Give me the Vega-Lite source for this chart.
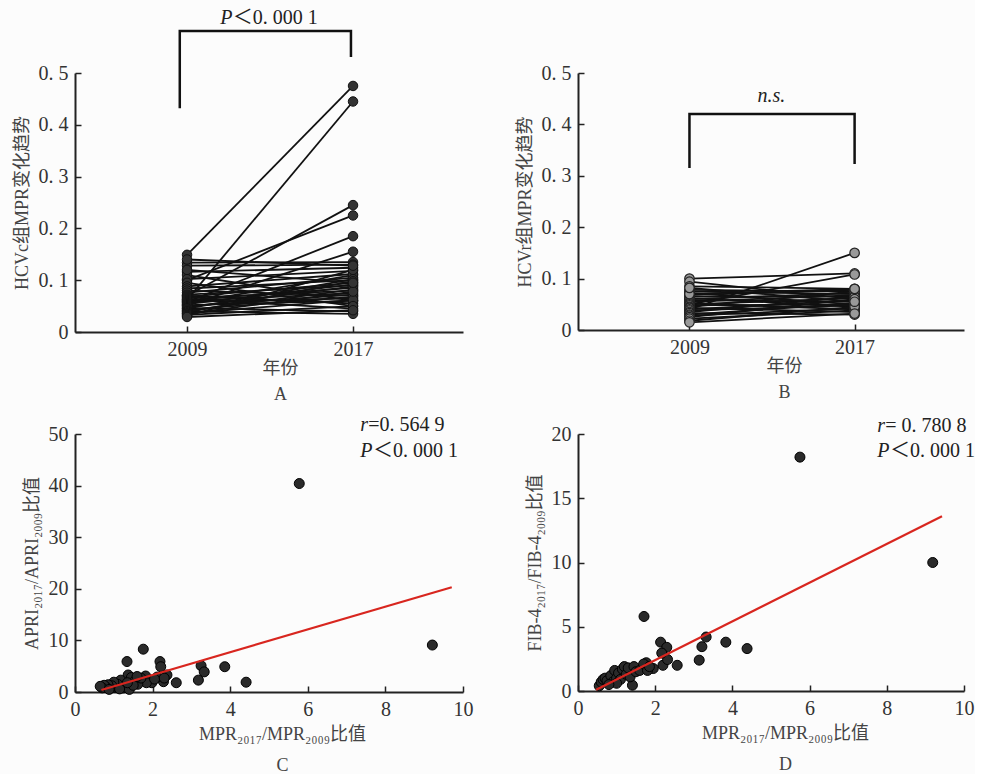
{
  "$schema": "https://vega.github.io/schema/vega-lite/v6.json",
  "background": "#fcfcfc",
  "padding": {"left": 13, "top": 8, "right": 0, "bottom": 0},
  "columns": 2,
  "spacing": {"row": 12, "column": 43},
  "config": {
    "font": "Liberation Serif, Noto Sans CJK SC",
    "view": {"stroke": null},
    "axis": {
      "grid": false,
      "domainColor": "#222",
      "domainWidth": 2,
      "tickColor": "#222",
      "tickWidth": 1.5,
      "tickSize": -6,
      "labelPadding": 13,
      "labelFont": "Liberation Serif, Noto Sans CJK SC",
      "labelFontSize": 20,
      "labelColor": "#333",
      "labelFlush": false,
      "labelOverlap": false,
      "titleFont": "Liberation Serif, Noto Sans CJK SC",
      "titleFontSize": 18,
      "titleFontWeight": "normal",
      "titleColor": "#444",
      "titlePadding": 7,
      "titleLineHeight": 26
    },
    "axisX": {"titlePadding": 0},
    "text": {"font": "Liberation Serif, Noto Sans CJK SC", "fontSize": 20, "color": "#222", "baseline": "middle", "align": "left"}
  },
  "datasets": {
    "pairsA": [
      {"id":1,"x":2009,"y":0.149},{"id":1,"x":2017,"y":0.475},
      {"id":2,"x":2009,"y":0.062},{"id":2,"x":2017,"y":0.445},
      {"id":3,"x":2009,"y":0.070},{"id":3,"x":2017,"y":0.245},
      {"id":4,"x":2009,"y":0.100},{"id":4,"x":2017,"y":0.225},
      {"id":5,"x":2009,"y":0.058},{"id":5,"x":2017,"y":0.185},
      {"id":6,"x":2009,"y":0.052},{"id":6,"x":2017,"y":0.155},
      {"id":7,"x":2009,"y":0.134},{"id":7,"x":2017,"y":0.135},
      {"id":8,"x":2009,"y":0.128},{"id":8,"x":2017,"y":0.130},
      {"id":9,"x":2009,"y":0.116},{"id":9,"x":2017,"y":0.124},
      {"id":10,"x":2009,"y":0.110},{"id":10,"x":2017,"y":0.060},
      {"id":11,"x":2009,"y":0.102},{"id":11,"x":2017,"y":0.118},
      {"id":12,"x":2009,"y":0.095},{"id":12,"x":2017,"y":0.050},
      {"id":13,"x":2009,"y":0.088},{"id":13,"x":2017,"y":0.112},
      {"id":14,"x":2009,"y":0.084},{"id":14,"x":2017,"y":0.100},
      {"id":15,"x":2009,"y":0.080},{"id":15,"x":2017,"y":0.070},
      {"id":16,"x":2009,"y":0.076},{"id":16,"x":2017,"y":0.105},
      {"id":17,"x":2009,"y":0.072},{"id":17,"x":2017,"y":0.090},
      {"id":18,"x":2009,"y":0.070},{"id":18,"x":2017,"y":0.055},
      {"id":19,"x":2009,"y":0.068},{"id":19,"x":2017,"y":0.095},
      {"id":20,"x":2009,"y":0.066},{"id":20,"x":2017,"y":0.080},
      {"id":21,"x":2009,"y":0.064},{"id":21,"x":2017,"y":0.045},
      {"id":22,"x":2009,"y":0.062},{"id":22,"x":2017,"y":0.085},
      {"id":23,"x":2009,"y":0.060},{"id":23,"x":2017,"y":0.075},
      {"id":24,"x":2009,"y":0.058},{"id":24,"x":2017,"y":0.065},
      {"id":25,"x":2009,"y":0.056},{"id":25,"x":2017,"y":0.110},
      {"id":26,"x":2009,"y":0.054},{"id":26,"x":2017,"y":0.092},
      {"id":27,"x":2009,"y":0.052},{"id":27,"x":2017,"y":0.060},
      {"id":28,"x":2009,"y":0.050},{"id":28,"x":2017,"y":0.072},
      {"id":29,"x":2009,"y":0.048},{"id":29,"x":2017,"y":0.088},
      {"id":30,"x":2009,"y":0.046},{"id":30,"x":2017,"y":0.040},
      {"id":31,"x":2009,"y":0.045},{"id":31,"x":2017,"y":0.102},
      {"id":32,"x":2009,"y":0.043},{"id":32,"x":2017,"y":0.068},
      {"id":33,"x":2009,"y":0.041},{"id":33,"x":2017,"y":0.082},
      {"id":34,"x":2009,"y":0.040},{"id":34,"x":2017,"y":0.035},
      {"id":35,"x":2009,"y":0.038},{"id":35,"x":2017,"y":0.098},
      {"id":36,"x":2009,"y":0.036},{"id":36,"x":2017,"y":0.062},
      {"id":37,"x":2009,"y":0.035},{"id":37,"x":2017,"y":0.078},
      {"id":38,"x":2009,"y":0.033},{"id":38,"x":2017,"y":0.050},
      {"id":39,"x":2009,"y":0.031},{"id":39,"x":2017,"y":0.120},
      {"id":40,"x":2009,"y":0.029},{"id":40,"x":2017,"y":0.042},
      {"id":41,"x":2009,"y":0.120},{"id":41,"x":2017,"y":0.095},
      {"id":42,"x":2009,"y":0.140},{"id":42,"x":2017,"y":0.128}
    ],
    "pairsB": [
      {"id":1,"x":2009,"y":0.100},{"id":1,"x":2017,"y":0.110},
      {"id":2,"x":2009,"y":0.040},{"id":2,"x":2017,"y":0.150},
      {"id":3,"x":2009,"y":0.094},{"id":3,"x":2017,"y":0.060},
      {"id":4,"x":2009,"y":0.050},{"id":4,"x":2017,"y":0.108},
      {"id":5,"x":2009,"y":0.085},{"id":5,"x":2017,"y":0.080},
      {"id":6,"x":2009,"y":0.078},{"id":6,"x":2017,"y":0.075},
      {"id":7,"x":2009,"y":0.075},{"id":7,"x":2017,"y":0.070},
      {"id":8,"x":2009,"y":0.072},{"id":8,"x":2017,"y":0.050},
      {"id":9,"x":2009,"y":0.068},{"id":9,"x":2017,"y":0.078},
      {"id":10,"x":2009,"y":0.065},{"id":10,"x":2017,"y":0.065},
      {"id":11,"x":2009,"y":0.062},{"id":11,"x":2017,"y":0.045},
      {"id":12,"x":2009,"y":0.060},{"id":12,"x":2017,"y":0.072},
      {"id":13,"x":2009,"y":0.058},{"id":13,"x":2017,"y":0.055},
      {"id":14,"x":2009,"y":0.055},{"id":14,"x":2017,"y":0.068},
      {"id":15,"x":2009,"y":0.052},{"id":15,"x":2017,"y":0.040},
      {"id":16,"x":2009,"y":0.050},{"id":16,"x":2017,"y":0.062},
      {"id":17,"x":2009,"y":0.048},{"id":17,"x":2017,"y":0.050},
      {"id":18,"x":2009,"y":0.045},{"id":18,"x":2017,"y":0.075},
      {"id":19,"x":2009,"y":0.043},{"id":19,"x":2017,"y":0.035},
      {"id":20,"x":2009,"y":0.040},{"id":20,"x":2017,"y":0.058},
      {"id":21,"x":2009,"y":0.038},{"id":21,"x":2017,"y":0.048},
      {"id":22,"x":2009,"y":0.035},{"id":22,"x":2017,"y":0.065},
      {"id":23,"x":2009,"y":0.033},{"id":23,"x":2017,"y":0.030},
      {"id":24,"x":2009,"y":0.030},{"id":24,"x":2017,"y":0.052},
      {"id":25,"x":2009,"y":0.028},{"id":25,"x":2017,"y":0.042},
      {"id":26,"x":2009,"y":0.025},{"id":26,"x":2017,"y":0.060},
      {"id":27,"x":2009,"y":0.022},{"id":27,"x":2017,"y":0.038},
      {"id":28,"x":2009,"y":0.018},{"id":28,"x":2017,"y":0.045},
      {"id":29,"x":2009,"y":0.015},{"id":29,"x":2017,"y":0.032},
      {"id":30,"x":2009,"y":0.070},{"id":30,"x":2017,"y":0.080},
      {"id":31,"x":2009,"y":0.082},{"id":31,"x":2017,"y":0.055}
    ],
    "bracketA": [
      {"o":1,"x":2008.65,"y":0.432},{"o":2,"x":2008.65,"y":0.581},
      {"o":3,"x":2016.9,"y":0.581},{"o":4,"x":2016.9,"y":0.531}
    ],
    "bracketB": [
      {"o":1,"x":2009,"y":0.315},{"o":2,"x":2009,"y":0.42},
      {"o":3,"x":2017,"y":0.42},{"o":4,"x":2017,"y":0.323}
    ],
    "scatterC": [
      {"x":5.78,"y":40.4},{"x":9.21,"y":9.1},{"x":1.76,"y":8.3},{"x":1.34,"y":5.9},
      {"x":2.19,"y":5.9},{"x":2.21,"y":4.9},{"x":3.25,"y":5.1},{"x":3.33,"y":3.9},
      {"x":3.86,"y":4.9},{"x":3.18,"y":2.3},{"x":4.41,"y":1.9},{"x":2.61,"y":1.8},
      {"x":2.37,"y":3.3},{"x":2.28,"y":2.0},{"x":2.12,"y":2.9},{"x":1.98,"y":1.8},
      {"x":1.82,"y":3.1},{"x":1.84,"y":1.8},{"x":1.37,"y":3.3},{"x":1.18,"y":2.3},
      {"x":1.45,"y":2.8},{"x":1.55,"y":2.2},{"x":1.62,"y":1.5},{"x":1.30,"y":1.2},
      {"x":1.25,"y":0.8},{"x":1.10,"y":1.5},{"x":1.05,"y":0.9},{"x":1.00,"y":1.9},
      {"x":0.95,"y":1.2},{"x":0.90,"y":0.7},{"x":0.85,"y":1.4},{"x":0.80,"y":0.9},
      {"x":0.75,"y":1.3},{"x":0.70,"y":0.8},{"x":0.65,"y":1.1},{"x":1.40,"y":0.5},
      {"x":1.50,"y":1.3},{"x":1.70,"y":2.7},{"x":2.05,"y":2.5},{"x":2.30,"y":2.7},
      {"x":1.15,"y":0.6},{"x":1.35,"y":1.8},{"x":0.88,"y":0.5},{"x":1.60,"y":3.0}
    ],
    "scatterD": [
      {"x":5.75,"y":18.2},{"x":9.19,"y":10.0},{"x":1.71,"y":5.8},{"x":2.14,"y":3.8},
      {"x":2.30,"y":3.4},{"x":3.32,"y":4.2},{"x":3.21,"y":3.45},{"x":3.83,"y":3.8},
      {"x":4.38,"y":3.3},{"x":3.14,"y":2.4},{"x":2.57,"y":2.0},{"x":2.20,"y":2.0},
      {"x":2.32,"y":2.45},{"x":2.17,"y":2.95},{"x":1.95,"y":1.75},{"x":1.77,"y":2.2},
      {"x":1.41,"y":0.45},{"x":0.55,"y":0.4},{"x":0.60,"y":0.7},{"x":0.65,"y":0.9},
      {"x":0.70,"y":1.0},{"x":0.75,"y":0.8},{"x":0.85,"y":1.2},{"x":0.90,"y":0.7},
      {"x":0.95,"y":1.6},{"x":1.00,"y":1.0},{"x":1.05,"y":1.4},{"x":1.10,"y":0.9},
      {"x":1.15,"y":1.7},{"x":1.20,"y":1.9},{"x":1.25,"y":1.3},{"x":1.30,"y":1.8},
      {"x":1.35,"y":1.1},{"x":1.45,"y":1.9},{"x":1.50,"y":1.5},{"x":1.60,"y":1.6},
      {"x":1.70,"y":2.1},{"x":1.80,"y":1.6},{"x":1.85,"y":1.9},{"x":1.00,"y":0.6},
      {"x":0.80,"y":0.5}
    ],
    "fitC": [{"x":0.68,"y":0.4},{"x":9.71,"y":20.3}],
    "fitD": [{"x":0.47,"y":0.1},{"x":9.43,"y":13.6}],
    "noteAi": [{"x":2010.6,"y":0.606,"t":"P"}],
    "noteAr": [{"x":2011.2,"y":0.606,"t":"＜0. 000 1"}],
    "noteBi": [{"x":2012.3,"y":0.455,"t":"n.s."}],
    "noteCi": [{"x":7.35,"y":51.7,"t":"r"},{"x":7.35,"y":46.7,"t":"P"}],
    "noteCr": [{"x":7.56,"y":51.7,"t":"=0. 564 9"},{"x":7.68,"y":46.7,"t":"＜0. 000 1"}],
    "noteDi": [{"x":7.75,"y":20.6,"t":"r"},{"x":7.75,"y":18.7,"t":"P"}],
    "noteDr": [{"x":7.96,"y":20.6,"t":"= 0. 780 8"},{"x":8.08,"y":18.7,"t":"＜0. 000 1"}]
  },
  "concat": [
    {
      "width": 388, "height": 259,
      "encoding": {
        "x": {"field":"x","type":"quantitative","scale":{"domain":[2003.6,2022.3],"nice":false,"zero":false},
              "axis":{"values":[2009,2017],"format":"d","title":["年份","A"],"titleX":205}},
        "y": {"field":"y","type":"quantitative","scale":{"domain":[0,0.5],"nice":false},
              "axis":{"values":[0,0.1,0.2,0.3,0.4,0.5],"title":"HCVc组MPR变化趋势",
                      "labelExpr":"datum.value == 0 ? '0' : replace(format(datum.value, '.1f'), '.', '. ')"}}
      },
      "layer": [
        {"data":{"name":"pairsA"},"mark":{"type":"line","color":"#111","strokeWidth":1.8},"encoding":{"detail":{"field":"id"}}},
        {"data":{"name":"pairsA"},"mark":{"type":"circle","size":90,"color":"#333","opacity":1,"stroke":"#111","strokeWidth":1}},
        {"data":{"name":"bracketA"},"mark":{"type":"line","color":"#111","strokeWidth":2.5},"encoding":{"order":{"field":"o"}}},
        {"data":{"name":"noteAi"},"mark":{"type":"text","fontStyle":"italic"},"encoding":{"text":{"field":"t"}}},
        {"data":{"name":"noteAr"},"mark":{"type":"text"},"encoding":{"text":{"field":"t"}}}
      ]
    },
    {
      "width": 386, "height": 257,
      "encoding": {
        "x": {"field":"x","type":"quantitative","scale":{"domain":[2003.6,2022.3],"nice":false,"zero":false},
              "axis":{"values":[2009,2017],"format":"d","title":["年份","B"],"titleX":206}},
        "y": {"field":"y","type":"quantitative","scale":{"domain":[0,0.5],"nice":false},
              "axis":{"values":[0,0.1,0.2,0.3,0.4,0.5],"title":"HCVr组MPR变化趋势",
                      "labelExpr":"datum.value == 0 ? '0' : replace(format(datum.value, '.1f'), '.', '. ')"}}
      },
      "layer": [
        {"data":{"name":"pairsB"},"mark":{"type":"line","color":"#111","strokeWidth":1.8},"encoding":{"detail":{"field":"id"}}},
        {"data":{"name":"pairsB"},"mark":{"type":"circle","size":90,"color":"#999","opacity":1,"stroke":"#222","strokeWidth":1.2}},
        {"data":{"name":"bracketB"},"mark":{"type":"line","color":"#111","strokeWidth":2.5},"encoding":{"order":{"field":"o"}}},
        {"data":{"name":"noteBi"},"mark":{"type":"text","fontStyle":"italic"},"encoding":{"text":{"field":"t"}}}
      ]
    },
    {
      "width": 388, "height": 258,
      "encoding": {
        "x": {"field":"x","type":"quantitative","scale":{"domain":[0,10],"nice":false},
              "axis":{"values":[0,2,4,6,8,10],"title":["MPR₂₀₁₇/MPR₂₀₀₉比值","C"],"titleX":207,"titlePadding":6,"titleLineHeight":31}},
        "y": {"field":"y","type":"quantitative","scale":{"domain":[0,50],"nice":false},
              "axis":{"values":[0,10,20,30,40,50],"title":"APRI₂₀₁₇/APRI₂₀₀₉比值"}}
      },
      "layer": [
        {"data":{"name":"scatterC"},"mark":{"type":"circle","size":100,"color":"#2a2a2a","opacity":1,"stroke":"#000","strokeWidth":1}},
        {"data":{"name":"fitC"},"mark":{"type":"line","color":"#d8261f","strokeWidth":2.2}},
        {"data":{"name":"noteCi"},"mark":{"type":"text","fontStyle":"italic"},"encoding":{"text":{"field":"t"}}},
        {"data":{"name":"noteCr"},"mark":{"type":"text"},"encoding":{"text":{"field":"t"}}}
      ]
    },
    {
      "width": 386, "height": 257,
      "encoding": {
        "x": {"field":"x","type":"quantitative","scale":{"domain":[0,10],"nice":false},
              "axis":{"values":[0,2,4,6,8,10],"title":["MPR₂₀₁₇/MPR₂₀₀₉比值","D"],"titleX":207,"titlePadding":6,"titleLineHeight":31}},
        "y": {"field":"y","type":"quantitative","scale":{"domain":[0,20],"nice":false},
              "axis":{"values":[0,5,10,15,20],"title":"FIB-4₂₀₁₇/FIB-4₂₀₀₉比值"}}
      },
      "layer": [
        {"data":{"name":"scatterD"},"mark":{"type":"circle","size":100,"color":"#2a2a2a","opacity":1,"stroke":"#000","strokeWidth":1}},
        {"data":{"name":"fitD"},"mark":{"type":"line","color":"#d8261f","strokeWidth":2.2}},
        {"data":{"name":"noteDi"},"mark":{"type":"text","fontStyle":"italic"},"encoding":{"text":{"field":"t"}}},
        {"data":{"name":"noteDr"},"mark":{"type":"text"},"encoding":{"text":{"field":"t"}}}
      ]
    }
  ]
}
